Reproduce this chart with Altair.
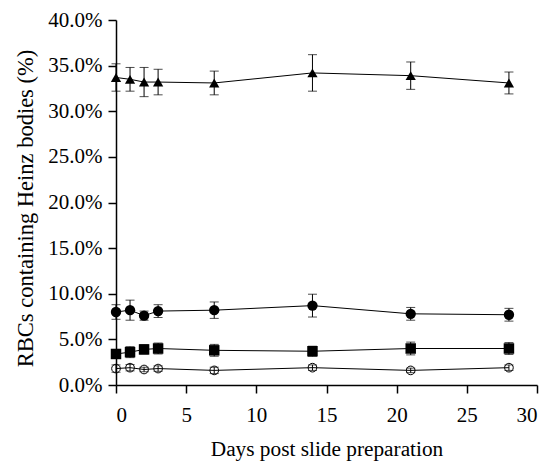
import altair as alt
import pandas as pd

days = [0, 1, 2, 3, 7, 14, 21, 28]
series_names = ["triangle", "filled circle", "square", "open circle"]
tri = [33.7, 33.5, 33.2, 33.2, 33.1, 34.2, 33.9, 33.1]
tri_err = [1.5, 1.3, 1.6, 1.4, 1.3, 2.0, 1.5, 1.2]
circ = [8.0, 8.2, 7.6, 8.1, 8.2, 8.7, 7.8, 7.7]
circ_err = [0.8, 1.1, 0.5, 0.7, 0.9, 1.25, 0.7, 0.7]
sq = [3.4, 3.6, 3.9, 4.0, 3.8, 3.7, 4.0, 4.0]
sq_err = [0.45, 0.6, 0.5, 0.6, 0.65, 0.55, 0.7, 0.65]
opn = [1.8, 1.9, 1.7, 1.8, 1.6, 1.9, 1.6, 1.9]
opn_err = [0.4, 0.35, 0.25, 0.3, 0.35, 0.3, 0.25, 0.3]

rows = []
for name, vals, errs in zip(series_names, [tri, circ, sq, opn], [tri_err, circ_err, sq_err, opn_err]):
    for d, v, e in zip(days, vals, errs):
        rows.append({"series": name, "day": d, "val": v / 100,
                     "lo": (v - e) / 100, "hi": (v + e) / 100})
df = pd.DataFrame(rows)

FONT = "Liberation Serif"
xaxis = alt.Axis(title="Days post slide preparation", values=list(range(0, 31, 5)),
                 format="d", grid=False, labelFont=FONT, titleFont=FONT,
                 labelFontSize=21, titleFontSize=21.3, labelPadding=11, titlePadding=13)
yaxis = alt.Axis(title="RBCs containing Heinz bodies (%)", values=[i * 0.05 for i in range(9)],
                 format=".1%", grid=False, labelFont=FONT, titleFont=FONT,
                 labelFontSize=21, titleFontSize=22.5, labelPadding=6, titlePadding=10,
                 titleY=188)
xs = alt.Scale(domain=[0, 30], nice=False)
ys = alt.Scale(domain=[0, 0.4], nice=False)
x = alt.X("day:Q", scale=xs, axis=xaxis)
y = alt.Y("val:Q", scale=ys, axis=yaxis)

base = alt.Chart(df)
lines = base.mark_line(color="black", strokeWidth=1).encode(x=x, y=y, detail="series:N")
errs = base.mark_errorbar(color="black", ticks={"size": 9, "thickness": 1}, thickness=1).encode(
    x=x, y=alt.Y("lo:Q", scale=ys, axis=yaxis), y2="hi:Q")
shape_scale = alt.Scale(domain=series_names[:3], range=["triangle-up", "circle", "square"])
size_scale = alt.Scale(domain=series_names[:3], range=[105, 110, 80])
filled = base.transform_filter(alt.datum.series != "open circle").mark_point(
    filled=True, color="black", opacity=1).encode(
    x=x, y=y,
    shape=alt.Shape("series:N", scale=shape_scale, legend=None),
    size=alt.Size("series:N", scale=size_scale, legend=None))
opened = base.transform_filter(alt.datum.series == "open circle").mark_point(
    shape="circle", filled=False, color="black", size=75, strokeWidth=1, opacity=1).encode(
    x=x, y=y)

chart = alt.layer(lines, errs, filled, opened).properties(
    width=421, height=365,
    autosize=alt.AutoSizeParams(type="none"),
    padding={"left": 108, "top": 12, "right": 7, "bottom": 76},
).configure_view(stroke=None).configure_axis(
    labelFont=FONT, titleFont=FONT,
    titleFontWeight="normal", labelColor="black", titleColor="black",
    domainColor="black", tickColor="black", domainWidth=1.5, tickWidth=1.5, tickSize=8,
)

chart.save("out.html", embed_options={"renderer": "svg", "actions": False})
